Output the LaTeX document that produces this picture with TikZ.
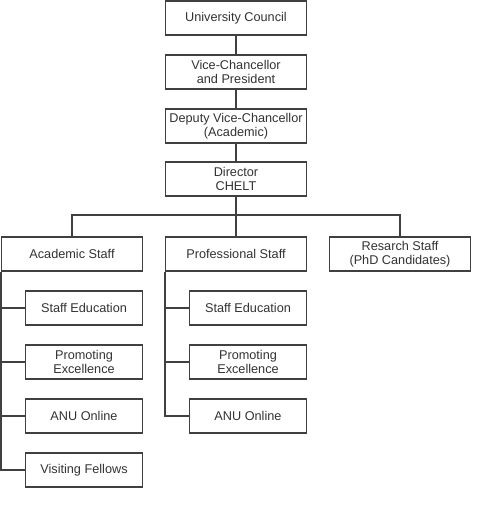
\documentclass[tikz,border=0pt]{standalone}
\usepackage{fontspec}
\setmainfont{Liberation Sans}
\usetikzlibrary{positioning}

\tikzset{
	unit/.style = {draw = black!75, line width = 1.5pt, text = black!80, fill = white,
		minimum width = 141pt, minimum height = 34pt, align = center, inner sep = 0pt,
		font = \fontsize{12.7}{14}\selectfont},
	subunit/.style = {unit, minimum width = 117pt},
	link/.style = {draw = black!75, line width = 1.5pt}
}

\begin{document}
\begin{tikzpicture}[x = 1pt, y = -1pt]
				\useasboundingbox (0,0) rectangle (482,512);

				% chain of command
				\node [unit] (council) at (236,18) {University Council};
				\node [unit] (vc) at (236,72) {Vice-Chancellor\\and President};
				\node [unit] (dvc) at (236,126) {Deputy Vice-Chancellor\\(Academic)};
				\node [unit] (chelt) at (236,179) {Director\\CHELT};

				\node [unit] (acad) at (72,254) {Academic Staff};
				\node [unit] (prof) at (236,254) {Professional Staff};
				\node [unit] (res) at (400,254) {Resarch Staff\\(PhD Candidates)};

				% academic units
				\node [subunit] (aEdu) at (84,308) {Staff Education};
				\node [subunit] (aExc) at (84,362) {Promoting\\Excellence};
				\node [subunit] (aOnl) at (84,416) {ANU Online};
				\node [subunit] (aVis) at (84,470) {Visiting Fellows};

				% professional units
				\node [subunit] (pEdu) at (248,308) {Staff Education};
				\node [subunit] (pExc) at (248,362) {Promoting\\Excellence};
				\node [subunit] (pOnl) at (248,416) {ANU Online};

				\coordinate (bar) at (236,215);

				\begin{scope}[link]
					\draw (council) -- (vc);
					\draw (vc) -- (dvc);
					\draw (dvc) -- (chelt);
					\draw (chelt) -- (bar);
					\draw (acad.north) |- (bar) -| (res.north);
					\draw (bar) -- (prof.north);
				\end{scope}

				\begin{scope}[link]
					\draw (acad.south west) |- (aVis.west);
					\draw (acad.south west |- aEdu.west) -- (aEdu.west);
					\draw (acad.south west |- aExc.west) -- (aExc.west);
					\draw (acad.south west |- aOnl.west) -- (aOnl.west);

					\draw (prof.south west) |- (pOnl.west);
					\draw (prof.south west |- pEdu.west) -- (pEdu.west);
					\draw (prof.south west |- pExc.west) -- (pExc.west);
				\end{scope}
			\end{tikzpicture}
\end{document}
